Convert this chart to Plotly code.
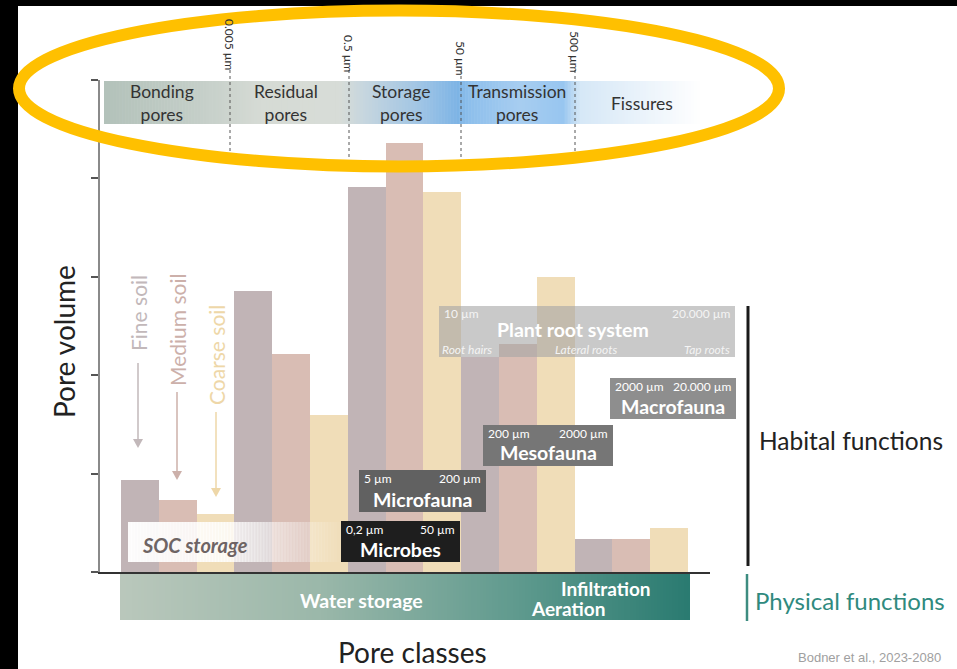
import plotly.graph_objects as go

# ---------------- data ----------------
pore_classes = ["Bonding pores", "Residual pores", "Storage pores", "Transmission pores", "Fissures"]
fine_soil = [0.93, 2.86, 3.91, 2.18, 0.34]
medium_soil = [0.73, 2.22, 4.36, 2.32, 0.34]
coarse_soil = [0.59, 1.60, 3.86, 3.00, 0.45]
band_labels = ["Bonding<br>pores", "Residual<br>pores", "Storage<br>pores", "Transmission<br>pores", "Fissures"]
size_limits = ["0.005 µm", "0.5 µm", "50 µm", "500 µm"]

W, H = 957, 669
L, R, T, B = 100, 710, 80, 572  # plot area in pixels

def xp(px):
    return (px - L) / (R - L)

def yp(py):
    return (B - py) / (B - T)

FONT = "Lato, 'Open Sans', sans-serif"

fig = go.Figure()
colors = ["#c1b4b6", "#d9bdb4", "#f0ddb8"]
for name, vals, c in zip(["Fine soil", "Medium soil", "Coarse soil"],
                         [fine_soil, medium_soil, coarse_soil], colors):
    fig.add_trace(go.Bar(x=pore_classes, y=vals, name=name, marker_color=c,
                         marker_line_width=0, showlegend=False, hoverinfo="y+name"))

shapes = []
annotations = []

def rect(x0, y0, x1, y1, color, layer="above"):
    shapes.append(dict(type="rect", xref="paper", yref="paper",
                       x0=xp(x0), x1=xp(x1), y0=yp(y1), y1=yp(y0),
                       fillcolor=color, line=dict(width=0), layer=layer))

def hexrgb(h):
    h = h.lstrip("#")
    return tuple(int(h[i:i + 2], 16) for i in (0, 2, 4))

def gradient(x0, y0, x1, y1, stops, step=3, layer="above"):
    n = max(1, int((x1 - x0) / step))
    for i in range(n):
        a = x0 + (x1 - x0) * i / n
        b = x0 + (x1 - x0) * (i + 1) / n
        t = (i + 0.5) / n
        for j in range(len(stops) - 1):
            if stops[j][0] <= t <= stops[j + 1][0]:
                p0, c0 = stops[j]
                p1, c1 = stops[j + 1]
                f = (t - p0) / (p1 - p0) if p1 > p0 else 0
                c = [c0[k] + (c1[k] - c0[k]) * f for k in range(4)]
                break
        col = "rgba(%d,%d,%d,%.3f)" % (c[0], c[1], c[2], c[3])
        rect(a, y0, min(b + 0.6, x1), y1, col, layer)

def st(pos, h, a=1.0):
    r, g, b = hexrgb(h)
    return (pos, (r, g, b, a))

def text(px, py, s, size, color, xanchor="center", yanchor="middle", angle=0, family=FONT, bold=False, italic=False):
    if bold:
        s = "<b>" + s + "</b>"
    if italic:
        s = "<i>" + s + "</i>"
    annotations.append(dict(x=xp(px), y=yp(py), xref="paper", yref="paper", text=s,
                            showarrow=False, xanchor=xanchor, yanchor=yanchor, textangle=angle,
                            font=dict(size=size, color=color, family=family)))

def line(x0, y0, x1, y1, color, width, dash="solid"):
    shapes.append(dict(type="line", xref="paper", yref="paper", x0=xp(x0), y0=yp(y0),
                       x1=xp(x1), y1=yp(y1), line=dict(color=color, width=width, dash=dash)))

# background black frame strips
rect(0, 0, 18, H, "#000000")
rect(0, 0, W, 6, "#000000")

# ---- top pore class band ----
span = 700 - 104
def rel(px):
    return (px - 104) / span
gradient(104, 81, 700, 124, [
    st(0.0, "#b3c2ba"), st(rel(200), "#c5cfc9"), st(rel(260), "#d6dbd5"), st(rel(340), "#d8ddd8"),
    st(rel(362), "#c8d7df"), st(rel(420), "#a0c5e5"), st(rel(458), "#7db4e6"), st(rel(468), "#8dbfec"),
    st(rel(520), "#a8cef1"), st(rel(563), "#98c6f0"), st(rel(580), "#d6e8f7"), st(rel(640), "#eaf3fb"),
    st(1.0, "#ffffff")], step=3)

for px_, lab in zip([162, 286, 401, 517, 642], band_labels):
    text(px_, 103, lab, 17.5, "#333333")

for px_, pcy, lab in zip([230, 349, 461, 575], [45, 54, 58, 52], size_limits):
    line(px_, 70, px_, 157, "#555555", 1, "dot")
    text(px_, pcy, lab, 12, "#333333", angle=90)

# ---- soil labels / arrows ----
soil_cols = ["#c2b8ba", "#ccb0aa", "#eed7a8"]
for (sx, cy, lab, y_from, y_tip), c in zip(
        [(138, 313, "Fine soil", 363, 448), (177, 330, "Medium soil", 392, 480), (216, 355, "Coarse soil", 412, 497)],
        soil_cols):
    text(sx, cy, lab, 21, c, angle=-90)
    line(sx, y_from, sx, y_tip - 8, c, 1.5)
    shapes.append(dict(type="path", xref="paper", yref="paper",
                       path="M %f %f L %f %f L %f %f Z" % (xp(sx - 5), yp(y_tip - 9), xp(sx + 5), yp(y_tip - 9), xp(sx), yp(y_tip)),
                       fillcolor=c, line=dict(width=0)))

# ---- SOC storage (white fading box) ----
gradient(128, 522, 345, 562, [st(0.0, "#ffffff", 0.95), st(0.45, "#ffffff", 0.8), st(1.0, "#ffffff", 0.0)], step=3)
text(140, 545, "SOC storage", 20, "#6e6464", xanchor="left", bold=True, italic=True)

# ---- organism boxes ----
def organism_box(x0, y0, x1, y1, fill, left, right, title, tcol="#ffffff", tsize=19.5):
    rect(x0, y0, x1, y1, fill)
    text(x0 + 3, y0 + 8, left, 12, tcol, xanchor="left")
    text(x1 - 3, y0 + 8, right, 12, tcol, xanchor="right")
    text((x0 + x1) / 2, y1 - 13, title, tsize, tcol, bold=True)

rect(439, 306, 735, 357, "rgba(165,165,165,0.6)")
text(442, 313, "10 µm", 12, "#f4f4f4", xanchor="left")
text(732, 313, "20.000 µm", 12, "#f4f4f4", xanchor="right")
text(573, 329, "Plant root system", 19.5, "#ffffff", bold=True)
text(440, 349, "Root hairs", 12, "#f4f4f4", xanchor="left", italic=True)
text(586, 349, "Lateral roots", 12, "#f4f4f4", italic=True)
text(732, 349, "Tap roots", 12, "#f4f4f4", xanchor="right", italic=True)

organism_box(610, 378, 736, 419, "#8e8e8e", "2000 µm", "20.000 µm", "Macrofauna")
organism_box(483, 425, 613, 466, "#767676", "200 µm", "2000 µm", "Mesofauna")
organism_box(359, 470, 486, 512, "#616161", "5 µm", "200 µm", "Microfauna")
organism_box(341, 521, 460, 562, "#1e1e1e", "0,2 µm", "50 µm", "Microbes")

# ---- bottom physical function band ----
gradient(120, 574, 690, 620, [st(0.0, "#bac8bc"), st(0.35, "#9bb8aa"), st(0.7, "#5f9a8e"), st(1.0, "#2a7b71")], step=3)
text(361, 600, "Water storage", 19.5, "#ffffff", bold=True)
text(606, 588, "Infiltration", 19, "#ffffff", bold=True)
text(568, 608, "Aeration", 19, "#ffffff", bold=True)

# ---- right side functions ----
line(748, 306, 748, 566, "#1a1a1a", 3)
text(757, 440, "Habital functions", 24.5, "#222222", xanchor="left")
line(747, 574, 747, 621, "#3d8c80", 2.5)
text(753, 600, "Physical functions", 24, "#2f8a7e", xanchor="left")

# ---- axis titles / source ----
text(64, 342, "Pore volume", 28, "#222222", angle=-90)
text(413, 652, "Pore classes", 28, "#222222")
text(869, 657, "Bodner et al., 2023-2080", 13, "#a0a0a0",
     family="'Liberation Sans Narrow', 'Liberation Sans', Arial, sans-serif")

# ---- highlight ellipse ----
shapes.append(dict(type="circle", xref="paper", yref="paper",
                   x0=xp(19), x1=xp(779), y0=yp(166.5), y1=yp(10.5),
                   line=dict(color="#FFC000", width=12), fillcolor="rgba(0,0,0,0)"))

fig.update_layout(
    width=W, height=H, margin=dict(l=L, r=W - R, t=T, b=H - B, pad=0),
    paper_bgcolor="#ffffff", plot_bgcolor="rgba(0,0,0,0)",
    barmode="group", bargap=0, bargroupgap=0,
    shapes=shapes, annotations=annotations, showlegend=False,
    font=dict(family=FONT),
)
fig.update_xaxes(range=[(L - 177.7) / 113.4, (R - 177.7) / 113.4], showticklabels=False, ticks="",
                 showgrid=False, zeroline=False, showline=True, linecolor="#333333", linewidth=1.5)
fig.update_yaxes(range=[0, 5], tickvals=[0, 1, 2, 3, 4, 5], ticks="outside", ticklen=7, tickwidth=1.5,
                 tickcolor="#555555", showticklabels=False, showgrid=False, zeroline=False,
                 showline=True, linecolor="#8a8a8a", linewidth=1.5)

fig.write_html("out.html", config={"displayModeBar": False},
               post_script="document.body.style.margin='0px';document.body.style.overflow='hidden';")
